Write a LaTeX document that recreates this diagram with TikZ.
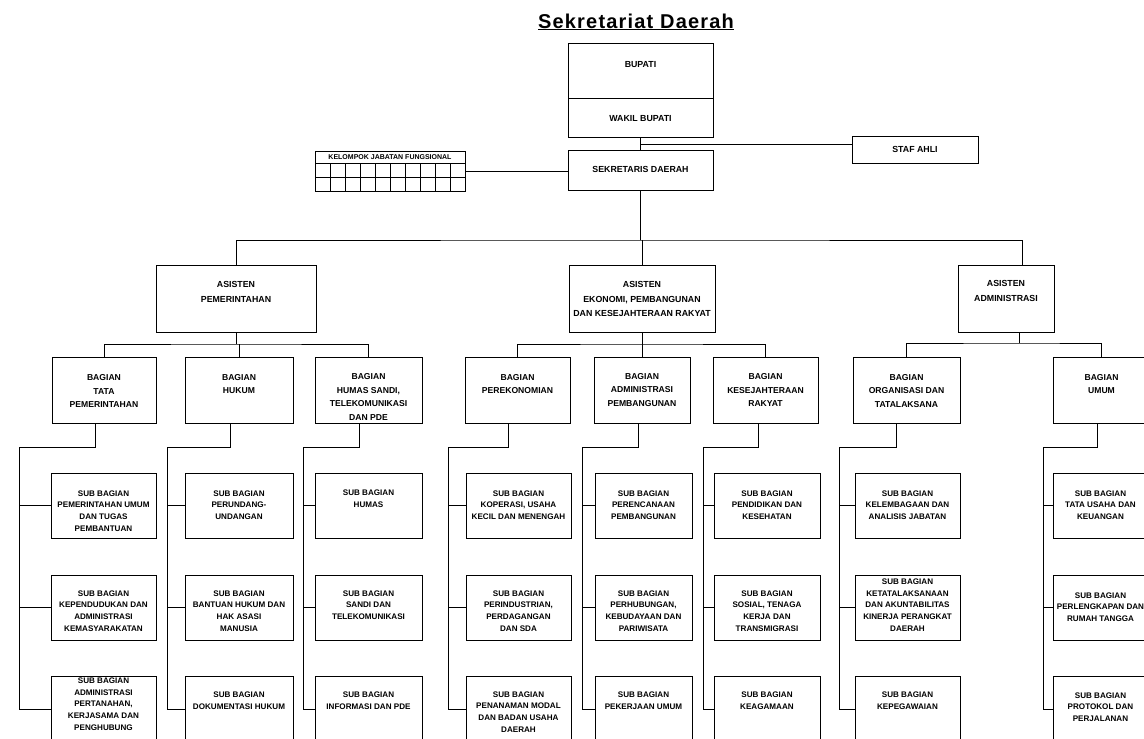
\documentclass[tikz,border=0pt]{standalone}
\usepackage{fontspec}
\setmainfont{Liberation Sans}
\newfontfamily\titlefont[LetterSpace=6]{Liberation Sans}
\usetikzlibrary{fit,calc}
\tikzset{
  box/.style={draw, line width=1pt, inner sep=0pt, outer sep=0pt},
  conn/.style={line width=1pt},
  subt/.style={align=center, inner sep=0pt, font=\bfseries\fontsize{8.1}{11.7}\selectfont},
  bagt/.style={align=center, inner sep=0pt, font=\bfseries\fontsize{8.6}{13.5}\selectfont},
  asit/.style={align=center, inner sep=0pt, font=\bfseries\fontsize{8.8}{14.5}\selectfont},
  topt/.style={align=center, inner sep=0pt, font=\bfseries\fontsize{8.8}{11}\selectfont},
  kjft/.style={inner sep=0pt, font=\bfseries\fontsize{7}{9}\selectfont},
}
\newcommand\obox[8][subt]{%
  \node[box, fit={(#3,#4) (#5,#6)}] (#2) {};
  \node[#1] (#2-t) at ({(#3+#5)/2},#7) {#8};}
\begin{document}
\begin{tikzpicture}[x=1pt,y=-1pt]
\useasboundingbox (0,0) rectangle (1144,739);
\clip (0,0) rectangle (1144,739);
% title
\node[font=\titlefont\fontsize{20}{24}\selectfont\bfseries, anchor=base, inner sep=0pt] (title) at (636,28) {\underline{Sekretariat Daerah}};
% top level
\obox[topt]{bupati}{568}{43}{713}{98}{65}{BUPATI}
\obox[topt]{wakil}{568}{98}{713}{137}{119}{WAKIL BUPATI}
\obox[topt]{sekda}{568}{150}{713}{190}{169}{SEKRETARIS DAERAH}
\obox[topt]{staf}{852}{136}{978}{163}{149}{STAF AHLI}
\node[box, fit={(315,151) (465,191)}] (kjf) {};
\node[kjft] (kjf-t) at (390,157) {KELOMPOK JABATAN FUNGSIONAL};
\draw[conn] ([yshift=-12pt]kjf.north west) -- ([yshift=-12pt]kjf.north east);
\draw[conn] ([yshift=-26pt]kjf.north west) -- ([yshift=-26pt]kjf.north east);
\foreach \i in {1,...,9} \draw[conn] ([xshift=15*\i pt, yshift=-12pt]kjf.north west) -- ([xshift=15*\i pt]kjf.south west);
% connectors top
\coordinate (j1) at (640.5,144);
\draw[conn] (wakil.south) -- (sekda.north);
\draw[conn] (j1) -- (j1 -| staf.west);
\draw[conn] (kjf.east) -- (kjf.east -| sekda.west);
\coordinate (bus) at (640.5,240);
% asisten
\obox[asit]{ap}{156}{265}{316}{332}{292}{ASISTEN\\PEMERINTAHAN}
\obox[asit]{ae}{569}{265}{715}{332}{299}{ASISTEN\\EKONOMI, PEMBANGUNAN\\DAN KESEJAHTERAAN RAKYAT}
\obox[asit]{aa}{958}{265}{1054}{332}{291}{ASISTEN\\ADMINISTRASI}
\draw[conn] (sekda.south) -- (bus);
\draw[conn] (ap.north) |- (bus) -| ([xshift=16pt]aa.north);
\draw[conn] (ae.north) -- (ae.north |- bus);
% bagian
\obox[bagt]{b1}{52}{357}{156}{423}{391}{BAGIAN\\TATA\\PEMERINTAHAN}
\obox[bagt]{b2}{185}{357}{293}{423}{384}{BAGIAN\\HUKUM}
\obox[bagt]{b3}{315}{357}{422}{423}{397}{BAGIAN\\HUMAS SANDI,\\TELEKOMUNIKASI\\DAN PDE}
\obox[bagt]{b4}{465}{357}{570}{423}{384}{BAGIAN\\PEREKONOMIAN}
\obox[bagt]{b5}{594}{357}{690}{423}{390}{BAGIAN\\ADMINISTRASI\\PEMBANGUNAN}
\obox[bagt]{b6}{713}{357}{818}{423}{390}{BAGIAN\\KESEJAHTERAAN\\RAKYAT}
\obox[bagt]{b7}{853}{357}{960}{423}{391}{BAGIAN\\ORGANISASI DAN\\TATALAKSANA}
\obox[bagt]{b8}{1053}{357}{1150}{423}{384}{BAGIAN\\UMUM}
\coordinate (h1) at (236,344);
\coordinate (h2) at (642,344);
\coordinate (h3) at (1019,343);
\draw[conn] (ap.south) -- (h1);
\draw[conn] (b1.north) |- (h1) -| (b3.north);
\draw[conn] (b2.north) -- (b2.north |- h1);
\draw[conn] (ae.south) -- (h2);
\draw[conn] (b4.north) |- (h2) -| (b6.north);
\draw[conn] (b5.north) -- (b5.north |- h2);
\draw[conn] ([xshift=13pt]aa.south) -- (h3);
\draw[conn] (b7.north) |- (h3) -| (b8.north);
% sub bagian
\obox{t11}{51}{473}{156}{538}{511}{SUB BAGIAN\\PEMERINTAHAN UMUM\\DAN TUGAS\\PEMBANTUAN}
\obox{t12}{51}{575}{156}{640}{611}{SUB BAGIAN\\KEPENDUDUKAN DAN\\ADMINISTRASI\\KEMASYARAKATAN}
\obox{t13}{51}{676}{156}{742}{704}{SUB BAGIAN\\ADMINISTRASI\\PERTANAHAN,\\KERJASAMA DAN\\PENGHUBUNG}
\obox{t21}{185}{473}{293}{538}{505}{SUB BAGIAN\\PERUNDANG-\\UNDANGAN}
\obox{t22}{185}{575}{293}{640}{611}{SUB BAGIAN\\BANTUAN HUKUM DAN\\HAK ASASI\\MANUSIA}
\obox{t23}{185}{676}{293}{742}{701}{SUB BAGIAN\\DOKUMENTASI HUKUM}
\obox{t31}{315}{473}{422}{538}{499}{SUB BAGIAN\\HUMAS}
\obox{t32}{315}{575}{422}{640}{605}{SUB BAGIAN\\SANDI DAN\\TELEKOMUNIKASI}
\obox{t33}{315}{676}{422}{742}{701}{SUB BAGIAN\\INFORMASI DAN PDE}
\obox{t41}{466}{473}{571}{538}{505}{SUB BAGIAN\\KOPERASI, USAHA\\KECIL DAN MENENGAH}
\obox{t42}{466}{575}{571}{640}{611}{SUB BAGIAN\\PERINDUSTRIAN,\\PERDAGANGAN\\DAN SDA}
\obox{t43}{466}{676}{571}{742}{712}{SUB BAGIAN\\PENANAMAN MODAL\\DAN BADAN USAHA\\DAERAH}
\obox{t51}{595}{473}{692}{538}{505}{SUB BAGIAN\\PERENCANAAN\\PEMBANGUNAN}
\obox{t52}{595}{575}{692}{640}{611}{SUB BAGIAN\\PERHUBUNGAN,\\KEBUDAYAAN DAN\\PARIWISATA}
\obox{t53}{595}{676}{692}{742}{701}{SUB BAGIAN\\PEKERJAAN UMUM}
\obox{t61}{714}{473}{820}{538}{505}{SUB BAGIAN\\PENDIDIKAN DAN\\KESEHATAN}
\obox{t62}{714}{575}{820}{640}{611}{SUB BAGIAN\\SOSIAL, TENAGA\\KERJA DAN\\TRANSMIGRASI}
\obox{t63}{714}{676}{820}{742}{701}{SUB BAGIAN\\KEAGAMAAN}
\obox{t71}{855}{473}{960}{538}{505}{SUB BAGIAN\\KELEMBAGAAN DAN\\ANALISIS JABATAN}
\obox{t72}{855}{575}{960}{640}{605}{SUB BAGIAN\\KETATALAKSANAAN\\DAN AKUNTABILITAS\\KINERJA PERANGKAT\\DAERAH}
\obox{t73}{855}{676}{960}{742}{701}{SUB BAGIAN\\KEPEGAWAIAN}
\obox{t81}{1053}{473}{1148}{538}{505}{SUB BAGIAN\\TATA USAHA DAN\\KEUANGAN}
\obox{t82}{1053}{575}{1148}{640}{607}{SUB BAGIAN\\PERLENGKAPAN DAN\\RUMAH TANGGA}
\obox{t83}{1053}{676}{1148}{742}{707}{SUB BAGIAN\\PROTOKOL DAN\\PERJALANAN}
% spines
\coordinate (s1) at (19,447);
\coordinate (s2) at (167,447);
\coordinate (s3) at (303,447);
\coordinate (s4) at (448,447);
\coordinate (s5) at (582,447);
\coordinate (s6) at (703,447);
\coordinate (s7) at (839,447);
\coordinate (s8) at (1043,447);
\draw[conn] ([xshift=-9pt]b1.south) |- (s1) |- (t11.west) (s1) |- (t12.west) (s1) |- (t13.west);
\draw[conn] ([xshift=-9pt]b2.south) |- (s2) |- (t21.west) (s2) |- (t22.west) (s2) |- (t23.west);
\draw[conn] ([xshift=-9pt]b3.south) |- (s3) |- (t31.west) (s3) |- (t32.west) (s3) |- (t33.west);
\draw[conn] ([xshift=-9pt]b4.south) |- (s4) |- (t41.west) (s4) |- (t42.west) (s4) |- (t43.west);
\draw[conn] ([xshift=-4pt]b5.south) |- (s5) |- (t51.west) (s5) |- (t52.west) (s5) |- (t53.west);
\draw[conn] ([xshift=-7pt]b6.south) |- (s6) |- (t61.west) (s6) |- (t62.west) (s6) |- (t63.west);
\draw[conn] ([xshift=-10pt]b7.south) |- (s7) |- (t71.west) (s7) |- (t72.west) (s7) |- (t73.west);
\draw[conn] ([xshift=-4pt]b8.south) |- (s8) |- (t81.west) (s8) |- (t82.west) (s8) |- (t83.west);
\end{tikzpicture}
\end{document}
